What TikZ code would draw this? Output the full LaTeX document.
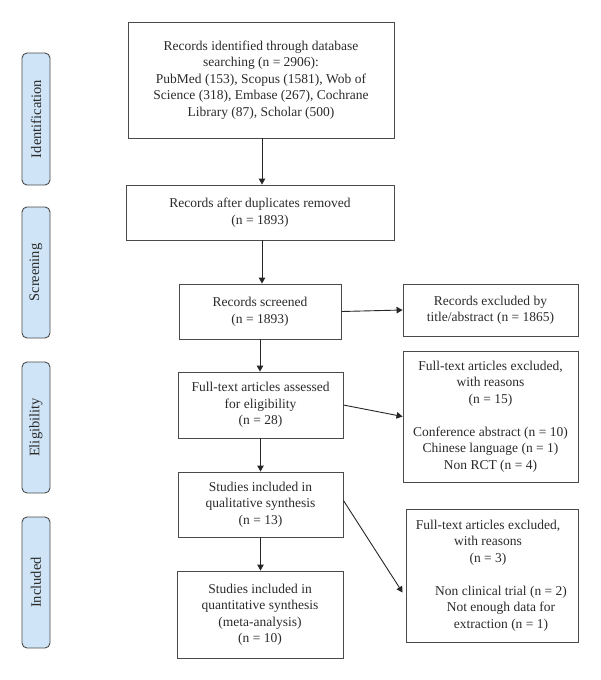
\documentclass[tikz,border=0pt]{standalone}
\usepackage{fontspec}
\setmainfont{Liberation Serif}
\usetikzlibrary{arrows.meta,calc}
\definecolor{sidefill}{HTML}{CFE5F7}
\definecolor{linegray}{HTML}{4A4A4A}
\definecolor{txt}{HTML}{2A2A2A}
\begin{document}
\begin{tikzpicture}[x=1pt,y=-1pt,
  box/.style={draw=linegray,line width=0.9pt,align=center,inner sep=0pt,text=txt,
    font=\fontsize{13.5}{16.5}\selectfont},
  side/.style={draw=linegray,line width=0.9pt,fill=sidefill,rounded corners=5pt,rotate=90,
    minimum height=28pt,inner sep=0pt,text=txt,font=\fontsize{14.5}{17}\selectfont},
  arr/.style={draw=black!85,line width=0.9pt,-{Triangle[length=6pt,width=6.5pt]}}]
\useasboundingbox (0,0) rectangle (600,680);
% side labels
\node[side,minimum width=132pt] (s1) at (36,119) {Identification};
\node[side,minimum width=131pt] (s2) at (36,272.5) {Screening};
\node[side,minimum width=131pt] (s3) at (36,427.5) {Eligibility};
\node[side,minimum width=131pt] (s4) at (36,582.5) {Included};
% main column
\node[box,minimum width=266pt,minimum height=116pt] (b1) at (261,80)
  {Records identified through database\\searching (n = 2906):\\PubMed (153), Scopus (1581), Wob of\\Science (318), Embase (267), Cochrane\\Library (87), Scholar (500)};
\node[box,minimum width=268pt,minimum height=55pt] (b2) at (260,212.5)
  {Records after duplicates removed\\(n = 1893)};
\node[box,minimum width=162pt,minimum height=55pt] (b3) at (260,311.5)
  {Records screened\\(n = 1893)};
\node[box,minimum width=165pt,minimum height=66pt] (b4) at (260.5,405)
  {Full-text articles assessed\\for eligibility\\(n = 28)};
\node[box,minimum width=165pt,minimum height=65pt] (b5) at (260.5,504.5)
  {Studies included in\\qualitative synthesis\\(n = 13)};
\node[box,minimum width=166pt,minimum height=87pt] (b6) at (260,614.5)
  {Studies included in\\quantitative synthesis\\(meta-analysis)\\(n = 10)};
% right column
\node[box,minimum width=175pt,minimum height=52pt] (r1) at (490.5,310)
  {Records excluded by\\title/abstract (n = 1865)};
\node[box,minimum width=175pt,minimum height=131pt] (r2) at (490.5,416.5)
  {Full-text articles excluded,\\with reasons\\(n = 15)\\[16.5pt]Conference abstract (n = 10)\\Chinese language (n = 1)\\Non RCT (n = 4)};
\node[box,minimum width=172pt,minimum height=133pt] (r3) at (492,575.5)
  {\hspace*{-8pt}Full-text articles excluded,\\\hspace*{-8pt}with reasons\\\hspace*{-8pt}(n = 3)\\[16.5pt]\hspace*{18pt}Non clinical trial (n = 2)\\\hspace*{18pt}Not enough data for\\\hspace*{18pt}extraction (n = 1)};
% connectors
\draw[arr] ([xshift=1pt]b1.south) -- ([xshift=1pt]b1.south |- b2.north);
\draw[arr] ([xshift=2pt]b2.south) -- ([xshift=2pt]b2.south |- b3.north);
\draw[arr] (b3.south) -- (b3.south |- b4.north);
\draw[arr] (b4.south) -- (b4.south |- b5.north);
\draw[arr] (b5.south) -- (b5.south |- b6.north);
\draw[arr] (b3.east) -- (r1.west);
\draw[arr] (b4.east) -- (r2.west);
\draw[arr] ($(b5.east)+(0,-4)$) -- ($(r3.west)+(-3,17)$);
\end{tikzpicture}
\end{document}
